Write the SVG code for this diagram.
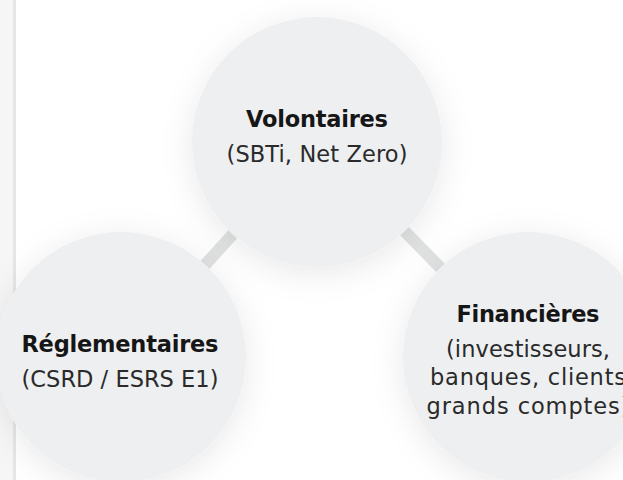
<svg xmlns="http://www.w3.org/2000/svg" width="623" height="480" viewBox="0 0 623 480">
  <defs>
    <filter id="sh" x="-40%" y="-40%" width="180%" height="180%">
      <feDropShadow dx="0" dy="6" stdDeviation="16" flood-color="#000" flood-opacity="0.09"/>
    </filter>
  </defs>
  <style>
    .node { fill: #eeeff1; filter: url(#sh); }
    .conn { stroke: #e0e1e1; stroke-width: 12; fill: none; }
    .t { font-family: "DejaVu Sans", "Liberation Sans", sans-serif; font-size: 22.5px; text-anchor: middle; }
    .b { font-weight: bold; fill: #161616; }
    .r { fill: #2a2a2a; }
  </style>
  <rect x="0" y="0" width="623" height="480" fill="#ffffff"/>
  <rect x="0" y="0" width="14" height="480" fill="#f6f6f6"/>
  <rect x="13" y="0" width="3" height="480" fill="#e6e6e6"/>
  <g id="connectors">
    <line class="conn" x1="317" y1="142" x2="121" y2="357"/>
    <line class="conn" x1="317" y1="142" x2="528" y2="357"/>
  </g>
  <g id="node-volontaires">
    <circle class="node" cx="317" cy="142" r="125"/>
    <text class="t b" x="317" y="127" textLength="142" lengthAdjust="spacing">Volontaires</text>
    <text class="t r" x="317" y="162" textLength="181" lengthAdjust="spacing">(SBTi, Net Zero)</text>
  </g>
  <g id="node-reglementaires">
    <circle class="node" cx="121" cy="357" r="125"/>
    <text class="t b" x="120" y="352" textLength="197" lengthAdjust="spacing">Réglementaires</text>
    <text class="t r" x="120" y="387" textLength="197" lengthAdjust="spacing">(CSRD / ESRS E1)</text>
  </g>
  <g id="node-financieres">
    <circle class="node" cx="528" cy="357" r="125"/>
    <text class="t b" x="528" y="322" textLength="143" lengthAdjust="spacing">Financières</text>
    <text class="t r" x="528" y="356.5" textLength="164" lengthAdjust="spacing">(investisseurs,</text>
    <text class="t r" x="528" y="385" textLength="196" lengthAdjust="spacing">banques, clients</text>
    <text class="t r" x="528" y="413.5" textLength="203" lengthAdjust="spacing">grands comptes)</text>
  </g>
</svg>
